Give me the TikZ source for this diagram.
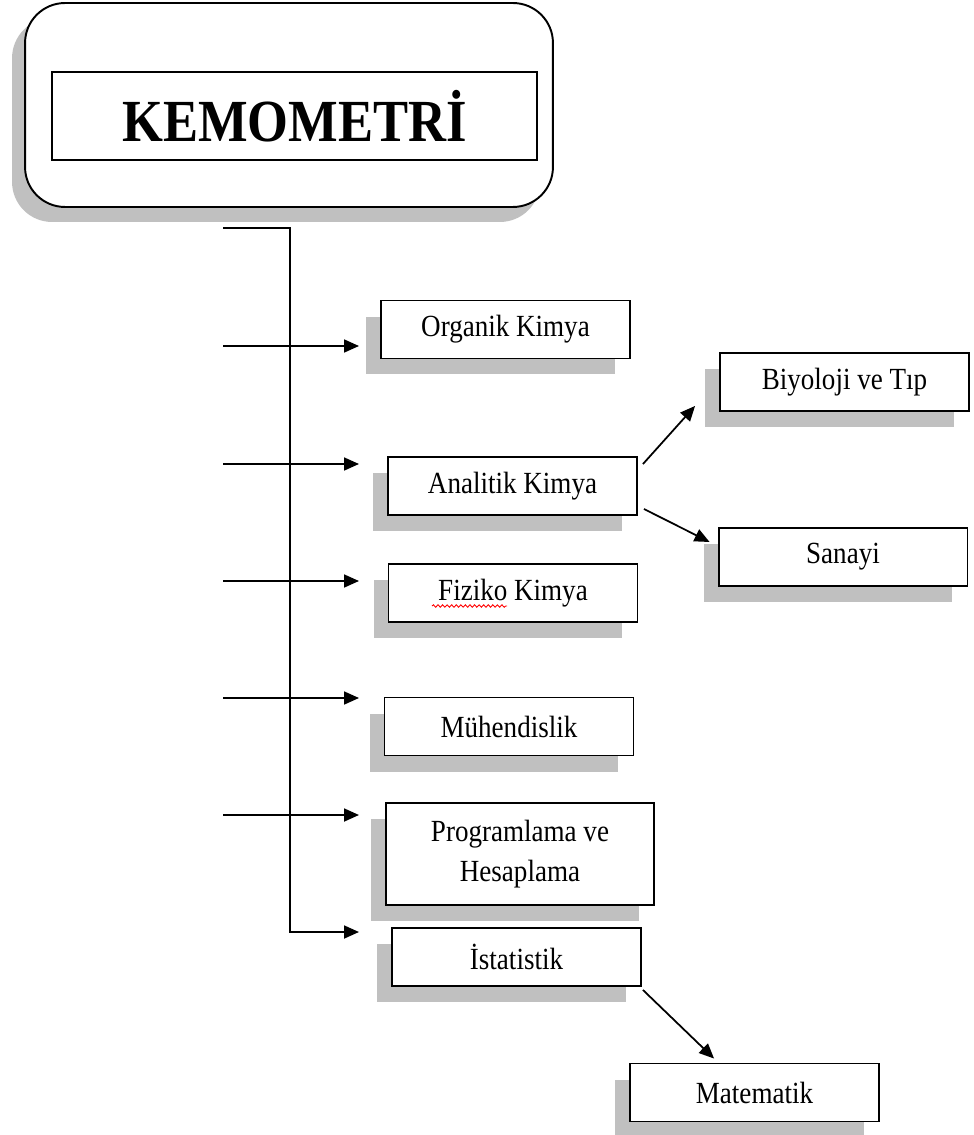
\documentclass[tikz,border=0pt]{standalone}
\usepackage{fontspec}
\setmainfont{Liberation Serif}[FakeStretch=0.88]
\usepackage{tikz}
\usetikzlibrary{arrows.meta}
\usetikzlibrary{shadows}
\usetikzlibrary{decorations.pathmorphing}
\definecolor{golge}{RGB}{192,192,192}
\def\kutugen{4.98cm}
\def\kutuyuk{1.16cm}
\tikzset{
	kutu/.style={draw, line width=1.1pt, fill=white, minimum width=\kutugen, minimum height=\kutuyuk, inner sep=0pt, align=center, font=\fontsize{17.5}{22.7}\selectfont, drop shadow={shadow xshift=-0.3cm, shadow yshift=-0.32cm, fill=golge, opacity=1}},
	ok/.style={line width=1pt, -{Triangle[length=0.3cm, width=0.26cm]}}
}

\begin{document}
\begin{tikzpicture}[x=0.02cm, y=-0.02cm]
	\useasboundingbox (0,0) rectangle (973,1135);
	%\draw[step=50, black!20!white] (0,0) grid (973,1135);
	\node[draw, line width=1.1pt, fill=white, rounded corners=0.8cm, minimum width=10.56cm, minimum height=4.08cm, drop shadow={shadow xshift=-0.26cm, shadow yshift=-0.3cm, fill=golge, opacity=1}] (ana) at (289,105) {};
	\node[draw, line width=1pt, minimum width=9.7cm, minimum height=1.76cm, font=\fontsize{34}{40}\selectfont\bfseries] (baslik) at (294.5,116) {KEMOMETRİ};
	\node[kutu] (organik) at (505.5,329.5) {Organik Kimya};
	\node[kutu] (analitik) at (512.5,486) {Analitik Kimya};
	\node[kutu] (fiziko) at (513,593) {Fiziko Kimya};
	\node[kutu] (muhendislik) at (509,726.5) {Mühendislik};
	\node[kutu, minimum width=5.36cm, minimum height=2.04cm] (programlama) at (520,854) {Programlama ve\\Hesaplama};
	\node[kutu] (istatistik) at (516.5,957) {İstatistik};
	\node[kutu] (biyoloji) at (844.5,382) {Biyoloji ve Tıp};
	\node[kutu] (sanayi) at (843,557) {Sanayi};
	\node[kutu] (matematik) at (754.5,1092.5) {Matematik};
	\draw[red, line width=0.5pt, decorate, decoration={snake, amplitude=0.7pt, segment length=2.6pt}] ([shift={(-81,13)}]fiziko.center) -- ([shift={(-6,13)}]fiziko.center);
	% govde
	\coordinate (ust) at (223,228);
	\coordinate (alt) at (290,932);
	\coordinate (u6) at (359,932);
	\draw[ok] (ust) -| (alt) -- (u6);
	\coordinate (s1) at (223,346);
	\coordinate (u1) at (359,346);
	\coordinate (s2) at (223,464);
	\coordinate (u2) at (359,464);
	\coordinate (s3) at (223,581);
	\coordinate (u3) at (359,581);
	\coordinate (s4) at (223,698);
	\coordinate (u4) at (359,698);
	\coordinate (s5) at (223,815);
	\coordinate (u5) at (359,815);
	\draw[ok] (s1) -- (u1);
	\draw[ok] (s2) -- (u2);
	\draw[ok] (s3) -- (u3);
	\draw[ok] (s4) -- (u4);
	\draw[ok] (s5) -- (u5);
	\draw[ok] ([shift={(5,8)}]analitik.north east) -- ([shift={(-24,-6)}]biyoloji.south west);
	\draw[ok] ([shift={(6,-7)}]analitik.south east) -- ([shift={(-8,-15)}]sanayi.west);
	\draw[ok] ([shift={(1,3)}]istatistik.south east) -- ([shift={(85,-4)}]matematik.north west);
\end{tikzpicture}
\end{document}
